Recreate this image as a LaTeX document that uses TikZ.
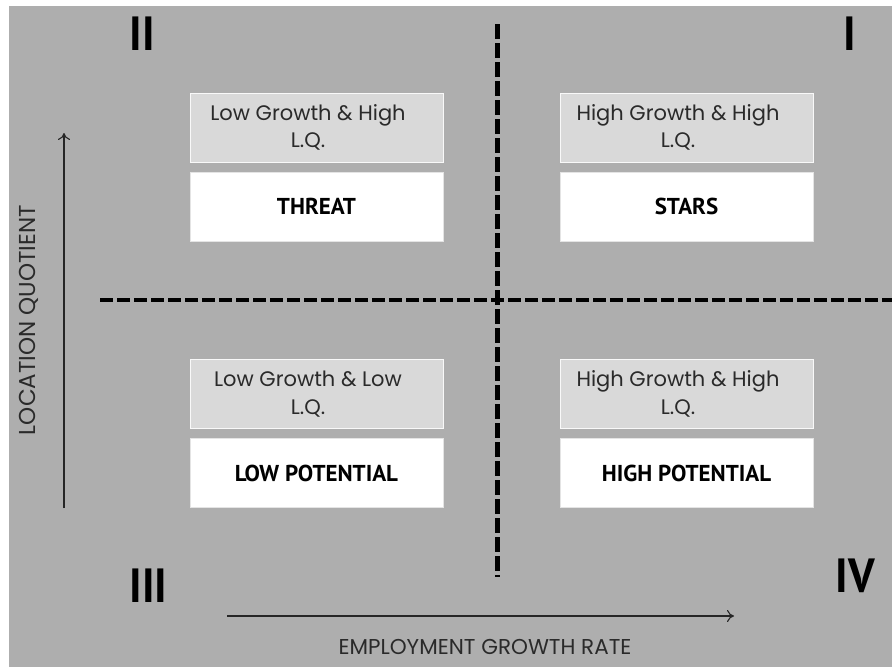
\documentclass[tikz,border=0pt]{standalone}
\usepackage{fontspec}
\setmainfont{Poppins}
\newfontfamily\boldlab{PT Sans}[BoldFont={* Bold}]
\usetikzlibrary{arrows.meta}
\definecolor{bggray}{HTML}{AEAEAE}
\definecolor{lightbox}{HTML}{D9D9D9}
\definecolor{txtgray}{HTML}{2A2A2A}
\newcommand{\qshift}{\kern17pt}
\tikzset{
  descbox/.style={fill=lightbox, draw=white!85!lightbox, line width=0.8pt, minimum width=253pt, minimum height=69pt, inner sep=0pt, align=center, text=txtgray, font=\fontsize{21}{27.5}\selectfont},
  namebox/.style={fill=white, draw=lightbox!70!white, line width=0.8pt, minimum width=253pt, minimum height=69pt, inner sep=0pt, align=center, font=\boldlab\bfseries\fontsize{23}{26}\selectfont},
  numeral/.style={font=\boldlab\bfseries\fontsize{48}{48}\selectfont, inner sep=0pt, xscale=0.92},
  quadline/.style={line width=4.3pt, dash pattern=on 13pt off 4pt},
  axis/.style={line width=1.1pt, -{To[length=7pt,width=12pt]}, color=black!85},
  axislabel/.style={text=txtgray, inner sep=0pt}
}
\begin{document}
\begin{tikzpicture}[x=1pt,y=-1pt]
\useasboundingbox (0,0) rectangle (892,667);
\fill[white] (0,0) rectangle (892,667);
\fill[bggray] (9,6) rectangle (892,667);
% quadrant lines
\coordinate (vtop) at (497.5,24);
\coordinate (vbot) at (497.5,577);
\coordinate (hleft) at (100,300);
\coordinate (hright) at (892,300);
\draw[quadline, dash pattern=on 15pt off 4pt] (vtop) -- (vbot);
\draw[quadline] (hleft) -- (hright);
% boxes
\node[descbox] (d2) at (316.5,127.5) {Low Growth \& High\qshift\\L.Q.\qshift};
\node[namebox] (n2) at (316.5,206.5) {THREAT};
\node[descbox] (d1) at (686.5,127.5) {High Growth \& High\qshift\\L.Q.\qshift};
\node[namebox] (n1) at (686.5,206.5) {STARS};
\node[descbox] (d3) at (316.5,394) {Low Growth \& Low\qshift\\L.Q.\qshift};
\node[namebox] (n3) at (316.5,473) {LOW POTENTIAL};
\node[descbox] (d4) at (686.5,394) {High Growth \& High\qshift\\L.Q.\qshift};
\node[namebox] (n4) at (686.5,473) {HIGH POTENTIAL};
% numerals
\node[numeral] (r2) at (142.5,33.5) {II};
\node[numeral] (r1) at (849.5,33.5) {I};
\node[numeral] (r3) at (148.5,585.5) {III};
\node[numeral] (r4) at (855.5,575.5) {IV};
% axes
\coordinate (ybot) at (64,508);
\coordinate (ytop) at (64,133);
\coordinate (xl) at (227,616);
\coordinate (xr) at (734,616);
\draw[axis] (ybot) -- (ytop);
\draw[axis] (xl) -- (xr);
\node[axislabel, rotate=90, font=\fontsize{23}{26}\selectfont] (ylab) at (28.5,320) {LOCATION QUOTIENT};
\node[axislabel, font=\fontsize{21.5}{26}\selectfont] (xlab) at (485,647) {EMPLOYMENT GROWTH RATE};
\end{tikzpicture}
\end{document}
